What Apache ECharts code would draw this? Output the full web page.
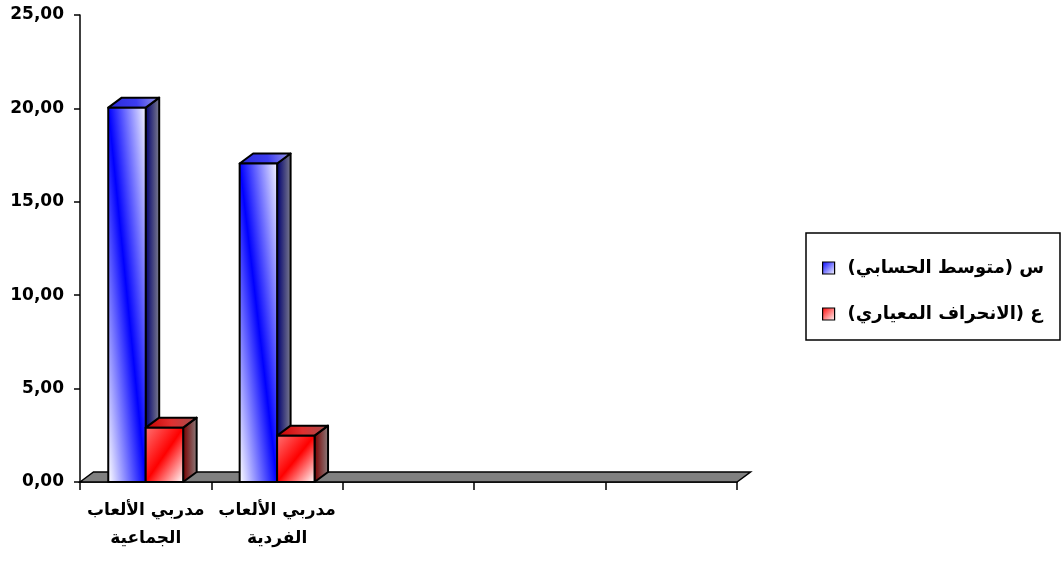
<!DOCTYPE html>
<html>
<head>
<meta charset="utf-8">
<script src="https://cdn.jsdelivr.net/npm/echarts@6/dist/echarts.min.js"></script>
<style>
  html, body { margin: 0; padding: 0; background: #ffffff; }
  #chart { width: 1064px; height: 563px; }
</style>
</head>
<body>
<div id="chart" dir="rtl"></div>
<script>
// Coach groups (only the first two slots hold data)
const categories = ['مدربي الألعاب\nالجماعية', 'مدربي الألعاب\nالفردية', '', '', ''];
// Arithmetic mean per group
const meanValues = [20.04, 17.05, null, null, null];
// Standard deviation per group
const sdValues = [2.91, 2.48, null, null, null];
const seriesNames = ['س (متوسط الحسابي)', 'ع (الانحراف المعياري)'];
const yTicks = [0, 5, 10, 15, 20, 25];

const FONT = 'DejaVu Sans';
const DX = 13.5, DY = -10;           // depth offset of the 3D faces
const BAR_SHARE = 0.285;             // bar width as a share of the category band

const LG = echarts.graphic.LinearGradient;

// Face colour schemes per series
const palettes = [
  {
    front: (x0, yT, x1, yB) => diagGrad(x0, yT, x1, yB, 'down',
      [{ offset: 0, color: '#ffffff' }, { offset: 0.5, color: '#0000ff' }, { offset: 1, color: '#f4f4ff' }]),
    top: (x0, y0, x1, y1) => new LG(x0, y0, x1, y1, [
      { offset: 0, color: '#2a2ad8' }, { offset: 0.55, color: '#3c3cf0' }, { offset: 1, color: '#9a9ae8' }], true),
    side: (x0, y0, x1, y1) => new LG(x0, y0, x1, y1, [
      { offset: 0, color: '#000070' }, { offset: 1, color: '#7a7a8c' }], true)
  },
  {
    front: (x0, yT, x1, yB) => diagGrad(x0, yT, x1, yB, 'up',
      [{ offset: 0, color: '#ff7070' }, { offset: 0.5, color: '#ff0000' }, { offset: 1, color: '#ffffff' }]),
    top: (x0, y0, x1, y1) => new LG(x0, y0, x1, y1, [
      { offset: 0, color: '#c80000' }, { offset: 0.5, color: '#e03030' }, { offset: 1, color: '#a05050' }], true),
    side: (x0, y0, x1, y1) => new LG(x0, y0, x1, y1, [
      { offset: 0, color: '#780000' }, { offset: 1, color: '#8a7a7a' }], true)
  }
];

// Gradient whose colour bands run parallel to one diagonal of the face
function diagGrad(x0, yT, x1, yB, dir, stops) {
  const W = x1 - x0, H = yB - yT;
  const L = Math.sqrt(W * W + H * H) || 1;
  const cx = (x0 + x1) / 2, cy = (yT + yB) / 2;
  let nx, ny;
  if (dir === 'down') { nx = -H / L; ny = W / L; }   // bands along top-left -> bottom-right
  else { nx = -H / L; ny = -W / L; }                 // bands along bottom-left -> top-right
  const r = W * H / L;
  return new LG(cx + nx * r, cy + ny * r, cx - nx * r, cy - ny * r, stops, true);
}

function makeBarRenderer(sIdx) {
  return function (params, api) {
    const cat = api.value(0), val = api.value(1);
    if (val == null || isNaN(val)) return null;
    const top = api.coord([cat, val]);
    const base = api.coord([cat, 0]);
    const band = api.size([1, 0])[0];
    const w = band * BAR_SHARE;
    const x0 = sIdx === 0 ? top[0] - w : top[0];
    const x1 = x0 + w;
    const yT = top[1], yB = base[1];
    const pal = palettes[sIdx];
    const edge = { stroke: '#000', lineWidth: 2, lineJoin: 'round' };
    return {
      type: 'group',
      children: [
        {
          type: 'polygon',
          shape: { points: [[x1, yT], [x1 + DX, yT + DY], [x1 + DX, yB + DY], [x1, yB]] },
          style: Object.assign({ fill: pal.side(x1, yT, x1 + DX, yT) }, edge)
        },
        {
          type: 'polygon',
          shape: { points: [[x0, yT], [x0 + DX, yT + DY], [x1 + DX, yT + DY], [x1, yT]] },
          style: Object.assign({ fill: pal.top(x0, yT, x1 + DX, yT + DY) }, edge)
        },
        {
          type: 'polygon',
          shape: { points: [[x0, yT], [x1, yT], [x1, yB], [x0, yB]] },
          style: Object.assign({ fill: pal.front(x0, yT, x1, yB) }, edge)
        }
      ]
    };
  };
}

// Grey floor slab under the whole category axis
function renderFloor(params, api) {
  const band = api.size([1, 0])[0];
  const first = api.coord([0, 0]);
  const last = api.coord([categories.length - 1, 0]);
  const xL = first[0] - band / 2, xR = last[0] + band / 2, y = first[1];
  return {
    type: 'polygon',
    shape: { points: [[xL, y], [xL + DX, y + DY], [xR + DX, y + DY], [xR, y]] },
    style: { fill: '#808080', stroke: '#000', lineWidth: 1.5 }
  };
}

const chart = echarts.init(document.getElementById('chart'), null, { renderer: 'canvas' });

chart.setOption({
  animation: false,
  backgroundColor: '#ffffff',
  textStyle: { fontFamily: FONT },
  grid: { left: 80, right: 327, top: 15, bottom: 81, containLabel: false },
  graphic: [{
    type: 'rect',
    shape: { x: 806, y: 233, width: 254, height: 107 },
    style: { fill: 'transparent', stroke: '#000', lineWidth: 1.5 },
    silent: true
  }],
  legend: {
    data: [
      { name: seriesNames[0], itemStyle: { color: new LG(0, 0, 1, 1, [{ offset: 0, color: '#0000ff' }, { offset: 1, color: '#ffffff' }]), borderColor: '#000', borderWidth: 1.2 } },
      { name: seriesNames[1], itemStyle: { color: new LG(0, 0, 1, 1, [{ offset: 0, color: '#ff0000' }, { offset: 1, color: '#ffffff' }]), borderColor: '#000', borderWidth: 1.2 } }
    ],
    orient: 'vertical',
    left: 822,
    top: 258,
    padding: 0,
    icon: 'rect',
    itemWidth: 12,
    itemHeight: 12,
    itemGap: 26,
    selectedMode: false,
    textStyle: { fontFamily: FONT, fontWeight: 'bold', fontSize: 18, color: '#000', lineHeight: 20, padding: [0, 0, 0, 8] }
  },
  xAxis: {
    type: 'category',
    data: categories,
    boundaryGap: true,
    axisLine: { show: true, lineStyle: { color: '#000', width: 1.5 } },
    axisTick: { show: true, length: 8, lineStyle: { color: '#000', width: 1.5 } },
    axisLabel: {
      interval: 0,
      margin: 15,
      fontFamily: FONT,
      fontWeight: 'bold',
      fontSize: 17,
      lineHeight: 28,
      color: '#000'
    },
    splitLine: { show: false }
  },
  yAxis: {
    type: 'value',
    min: yTicks[0],
    max: yTicks[yTicks.length - 1],
    interval: yTicks[1] - yTicks[0],
    axisLine: { show: true, lineStyle: { color: '#000', width: 1.5 } },
    axisTick: { show: true, length: 6, lineStyle: { color: '#000', width: 1.5 } },
    axisLabel: {
      margin: 16,
      fontFamily: FONT,
      fontWeight: 'bold',
      fontSize: 17,
      color: '#000',
      formatter: v => v.toFixed(2).replace('.', ',')
    },
    splitLine: { show: false }
  },
  series: [
    {
      name: 'floor',
      type: 'custom',
      renderItem: renderFloor,
      data: [[0, 0]],
      z: 1,
      silent: true
    },
    {
      name: seriesNames[0],
      type: 'custom',
      renderItem: makeBarRenderer(0),
      data: meanValues.map((v, i) => [i, v]),
      z: 2
    },
    {
      name: seriesNames[1],
      type: 'custom',
      renderItem: makeBarRenderer(1),
      data: sdValues.map((v, i) => [i, v]),
      z: 2
    }
  ]
});
</script>
</body>
</html>
